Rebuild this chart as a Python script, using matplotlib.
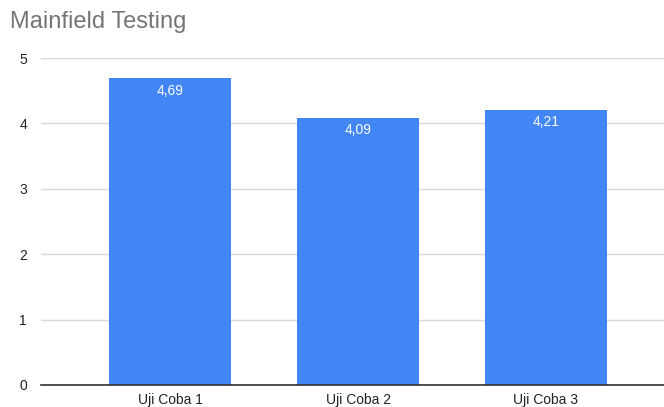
import numpy as np
from matplotlib import pyplot as plt

categories = ['Uji Coba 1', 'Uji Coba 2', 'Uji Coba 3']
values = [4.69, 4.09, 4.21]
labels = ['4,69', '4,09', '4,21']


def main():
    plt.rcParams['font.family'] = ['Liberation Sans', 'DejaVu Sans']
    fig = plt.figure(figsize=(6.64, 4.07), dpi=100)
    ax = fig.add_axes([41 / 664, 22 / 407, 623 / 664, 327 / 407])

    x = np.arange(len(categories))
    bars = ax.bar(x, values, width=0.65, color='#4285f4', zorder=3)
    for b, lab in zip(bars, labels):
        ax.annotate(lab, (b.get_x() + b.get_width() / 2, b.get_height()),
                    xytext=(0, -9), textcoords='offset points',
                    ha='center', va='center', color='white', fontsize=10)

    ax.set_xlim(-0.69, 2.63)
    ax.set_ylim(0, 5)
    ax.set_yticks(range(6))
    ax.set_xticks(x)
    ax.set_xticklabels(categories)
    ax.yaxis.grid(True, color='#d9d9d9', lw=1, zorder=0)
    for s in ['top', 'right', 'left']:
        ax.spines[s].set_visible(False)
    ax.spines['bottom'].set_color('#333333')
    ax.spines['bottom'].set_linewidth(1.2)
    ax.spines['bottom'].set_zorder(4)
    ax.tick_params(axis='both', length=0, labelsize=10, colors='#222222')
    ax.tick_params(axis='y', pad=10)
    ax.tick_params(axis='x', pad=6)

    fig.text(10 / 664, 1 - 22 / 407, 'Mainfield Testing', fontsize=17,
             color='#757575', ha='left', va='center')

    fig.savefig('out.png', dpi=100)


if __name__ == "__main__":
    main()
